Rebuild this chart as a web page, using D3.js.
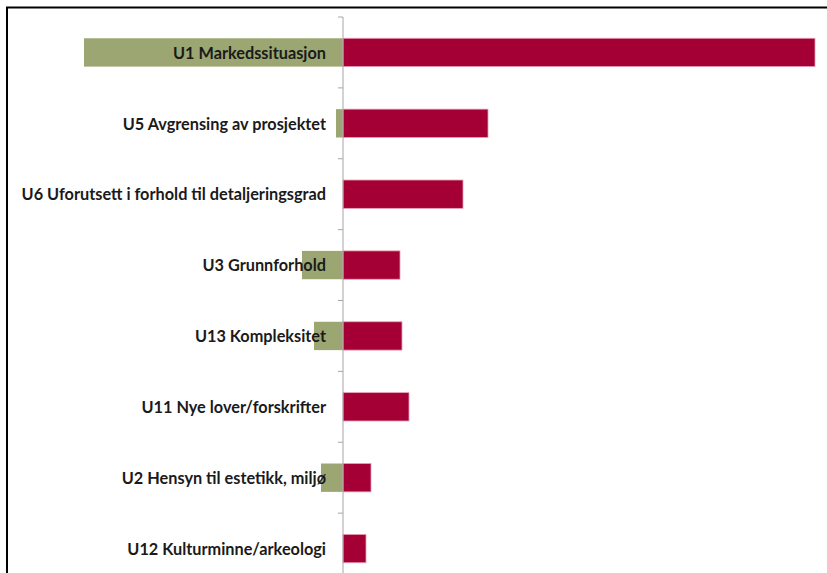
<!DOCTYPE html>
<html>
<head>
<meta charset="utf-8">
<script src="https://cdn.jsdelivr.net/npm/d3@7"></script>
<style>
  body { margin: 0; background: #fff; }
  svg { display: block; }
</style>
</head>
<body>
<script>
const width = 827;
const height = 573;

const categories = [
  'U1 Markedssituasjon',
  'U5 Avgrensing av prosjektet',
  'U6 Uforutsett i forhold til detaljeringsgrad',
  'U3 Grunnforhold',
  'U13 Kompleksitet',
  'U11 Nye lover/forskrifter',
  'U2 Hensyn til estetikk, miljø',
  'U12 Kulturminne/arkeologi'
];
// downside (drawn left of axis) and upside (right of axis)
const greenValues = [25.9, 0.7, 0, 4.1, 2.9, 0, 2.2, 0];
const redValues = [47.2, 14.5, 12.0, 5.7, 5.9, 6.6, 2.8, 2.3];

const svg = d3.select('body')
  .append('svg')
  .attr('width', width)
  .attr('height', height);

const x = d3.scaleLinear()
  .domain([-33.6, 48.4])
  .range([7, 827]);

const y = d3.scaleBand()
  .domain(categories)
  .range([17, 584])
  .paddingInner(0.6)
  .paddingOuter(0.3);

const rows = categories.map((c, i) => ({ cat: c, green: greenValues[i], red: redValues[i] }));

// frame
svg.append('line')
  .attr('x1', 6).attr('x2', width)
  .attr('y1', 7.5).attr('y2', 7.5)
  .attr('stroke', '#000').attr('stroke-width', 2);
svg.append('line')
  .attr('x1', 7).attr('x2', 7)
  .attr('y1', 7).attr('y2', height)
  .attr('stroke', '#000').attr('stroke-width', 2);

svg.append('g')
  .selectAll('rect')
  .data(rows).enter()
  .append('rect')
  .attr('x', d => x(-d.green))
  .attr('y', d => y(d.cat))
  .attr('width', d => x(0) - x(-d.green))
  .attr('height', y.bandwidth())
  .attr('fill', '#9ba673');

svg.append('g')
  .selectAll('rect')
  .data(rows).enter()
  .append('rect')
  .attr('x', x(0))
  .attr('y', d => y(d.cat))
  .attr('width', d => x(d.red) - x(0))
  .attr('height', y.bandwidth())
  .attr('fill', '#a40036')
  .attr('stroke', '#e7a0b4')
  .attr('stroke-width', 0.8);

// vertical axis with ticks at category boundaries
const step = y.step();
const boundaries = d3.range(categories.length + 1).map(i => 17 + i * step);
const axis = svg.append('g');
axis.append('line')
  .attr('x1', x(0)).attr('x2', x(0))
  .attr('y1', 17).attr('y2', height)
  .attr('stroke', '#a6a6a6').attr('stroke-width', 1);
axis.selectAll('line.tick')
  .data(boundaries).enter()
  .append('line')
  .attr('class', 'tick')
  .attr('x1', x(0) - 5).attr('x2', x(0))
  .attr('y1', d => d).attr('y2', d => d)
  .attr('stroke', '#a6a6a6');

svg.append('g')
  .selectAll('text')
  .data(rows).enter()
  .append('text')
  .attr('x', x(0) - 17)
  .attr('y', d => y(d.cat) + y.bandwidth() / 2)
  .attr('dy', '0.38em')
  .attr('text-anchor', 'end')
  .style('font-family', 'Lato, sans-serif')
  .style('font-weight', 'bold')
  .style('font-size', '16.3px')
  .attr('fill', '#1a1a1a')
  .text(d => d.cat);
</script>
</body>
</html>
